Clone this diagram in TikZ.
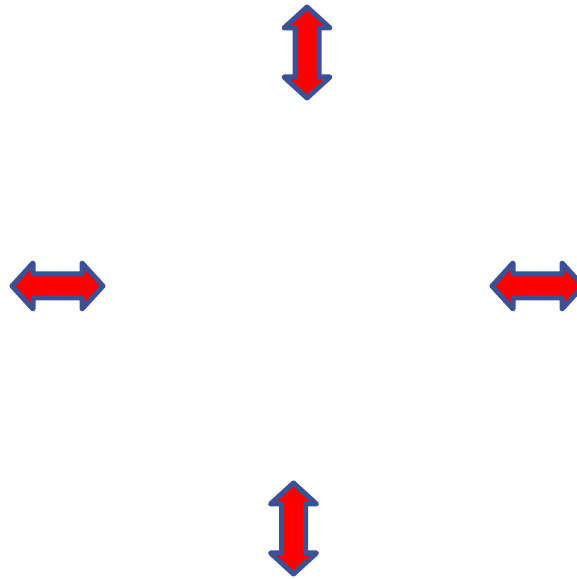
\documentclass[tikz,border=0pt]{standalone}
\definecolor{arrowred}{RGB}{255,0,0}
\definecolor{arrowblue}{RGB}{60,80,150}
\tikzset{
  dblarrow/.style={fill=arrowred, draw=arrowblue, line width=5pt, line join=round},
  pics/dbl/.style={code={
    \draw[dblarrow] (-45.5pt,0pt) -- (-24.5pt,23pt) -- (-24.5pt,12pt) -- (24.5pt,12pt) -- (24.5pt,23pt)
      -- (45.5pt,0pt) -- (24.5pt,-23pt) -- (24.5pt,-12pt) -- (-24.5pt,-12pt) -- (-24.5pt,-23pt) -- cycle;
  }}
}
\begin{document}
\begin{tikzpicture}[x=1pt,y=1pt]
\useasboundingbox (0,0) rectangle (577,579);
\pic[rotate=90] (top) at (307,526.5) {dbl};
\pic (left) at (57.5,293) {dbl};
\pic (right) at (537.5,293) {dbl};
\pic[rotate=90] (bottom) at (293.5,50.5) {dbl};
\end{tikzpicture}
\end{document}
